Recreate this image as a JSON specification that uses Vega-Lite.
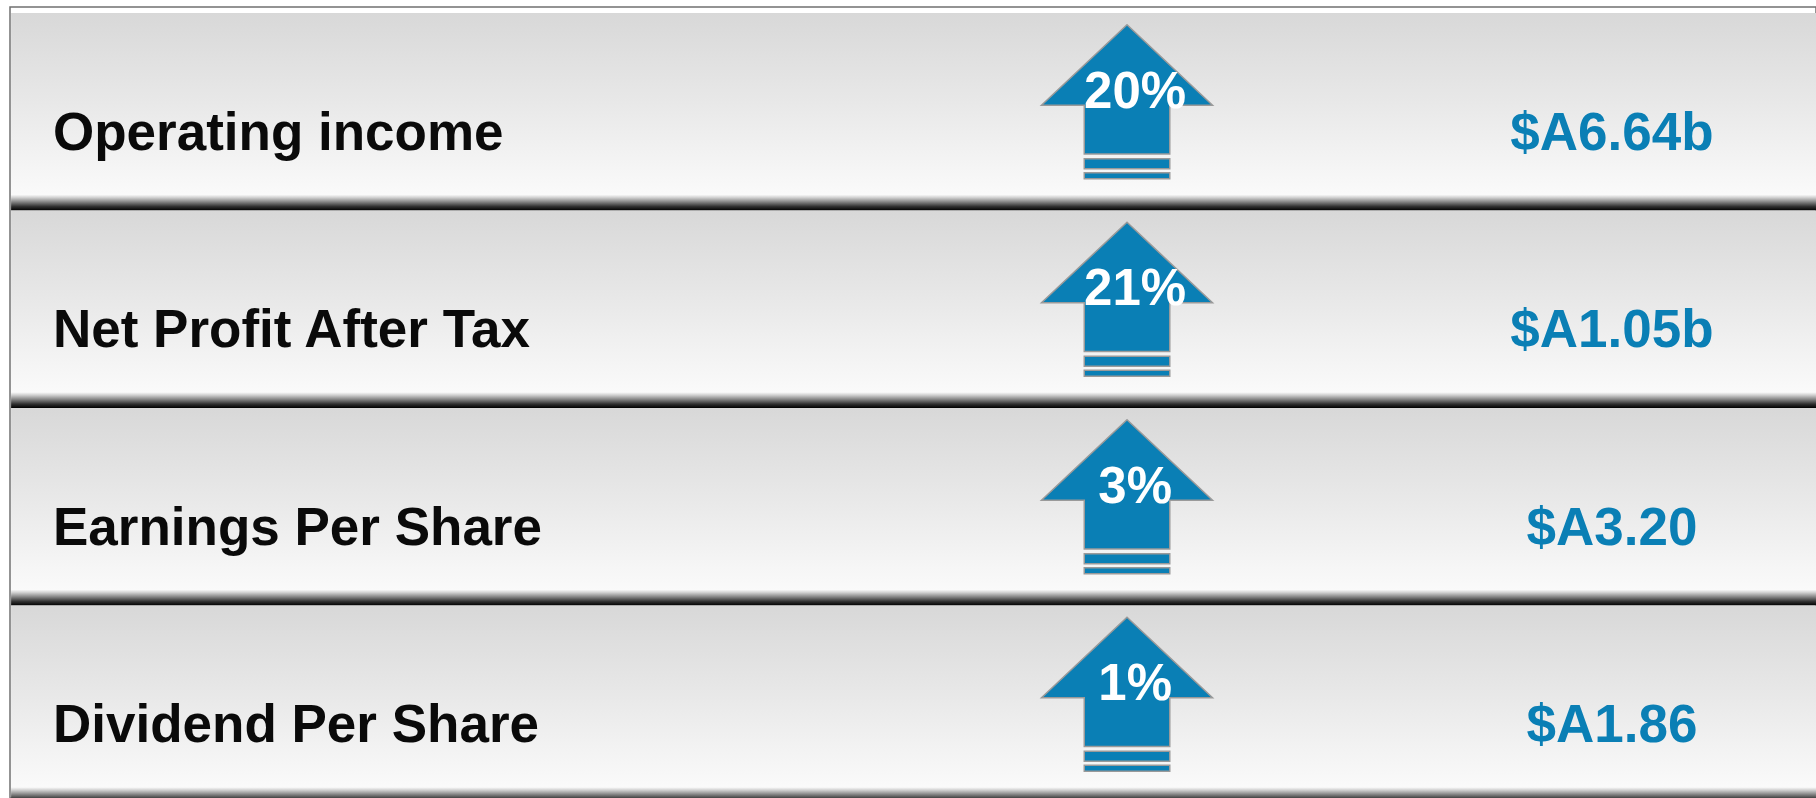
{
  "$schema": "https://vega.github.io/schema/vega-lite/v6.json",
  "width": 1806,
  "height": 791,
  "autosize": {"type": "none"},
  "padding": {"left": 10, "top": 7, "right": 0, "bottom": 0},
  "background": "white",
  "config": {
    "view": {"stroke": "#707070", "strokeWidth": 1.5},
    "font": "Liberation Sans"
  },
  "data": {
    "values": [
      {"metric": "Operating income", "change": 0.20, "value": "$A6.64b"},
      {"metric": "Net Profit After Tax", "change": 0.21, "value": "$A1.05b"},
      {"metric": "Earnings Per Share", "change": 0.03, "value": "$A3.20"},
      {"metric": "Dividend Per Share", "change": 0.01, "value": "$A1.86"}
    ]
  },
  "encoding": {
    "y": {
      "field": "metric",
      "type": "nominal",
      "sort": null,
      "axis": null,
      "scale": {"range": [6, 796], "paddingInner": 0, "paddingOuter": 0}
    }
  },
  "layer": [
    {
      "mark": {
        "type": "rect",
        "color": {
          "gradient": "linear",
          "x1": 0, "y1": 0, "x2": 0, "y2": 1,
          "stops": [
            {"offset": 0, "color": "#d8d8d8"},
            {"offset": 0.45, "color": "#e8e8e8"},
            {"offset": 0.92, "color": "#fafafa"},
            {"offset": 0.935, "color": "#cfcfcf"},
            {"offset": 0.955, "color": "#8a8a8a"},
            {"offset": 0.98, "color": "#303030"},
            {"offset": 1, "color": "#000000"}
          ]
        }
      },
      "encoding": {
        "x": {"datum": 0.06, "type": "quantitative", "axis": null, "scale": {"domain": [0, 100], "nice": false, "zero": false}},
        "x2": {"datum": 100}
      }
    },
    {
      "mark": {
        "type": "point",
        "shape": "M0,-0.9L1,0.041L0.5,0.041L0.5,0.61L-0.5,0.61L-0.5,0.041L-1,0.041Z M-0.5,0.668L0.5,0.668L0.5,0.783L-0.5,0.783Z M-0.5,0.83L0.5,0.83L0.5,0.9L-0.5,0.9Z",
        "filled": true,
        "fill": "#0a7fb5",
        "stroke": "#9a9a9a",
        "strokeWidth": 1.5,
        "opacity": 1,
        "fillOpacity": 1,
        "size": 29241,
        "yOffset": -10
      },
      "encoding": {
        "x": {"datum": 61.85, "type": "quantitative"}
      }
    },
    {
      "mark": {
        "type": "text",
        "align": "center",
        "baseline": "alphabetic",
        "fontSize": 51,
        "fontWeight": "bold",
        "color": "#ffffff",
        "dy": -4
      },
      "encoding": {
        "x": {"datum": 62.3, "type": "quantitative"},
        "text": {"field": "change", "type": "quantitative", "format": ".0%"}
      }
    },
    {
      "mark": {
        "type": "text",
        "align": "left",
        "baseline": "alphabetic",
        "fontSize": 53,
        "fontWeight": "bold",
        "color": "#0a0a0a",
        "dy": 38
      },
      "encoding": {
        "x": {"datum": 2.38, "type": "quantitative"},
        "text": {"field": "metric", "type": "nominal"}
      }
    },
    {
      "mark": {
        "type": "text",
        "align": "center",
        "baseline": "alphabetic",
        "fontSize": 53,
        "fontWeight": "bold",
        "color": "#0a7fb5",
        "dy": 38
      },
      "encoding": {
        "x": {"datum": 88.7, "type": "quantitative"},
        "text": {"field": "value", "type": "nominal"}
      }
    }
  ]
}
